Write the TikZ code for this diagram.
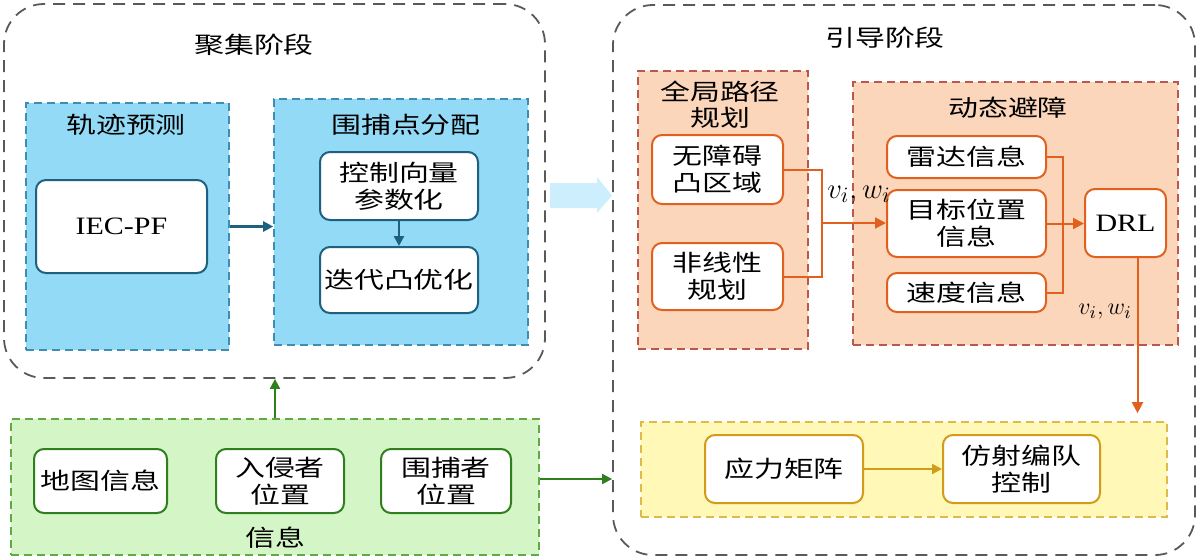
\documentclass[tikz,border=0pt]{standalone}
\usepackage{fontspec}
\setmainfont{Liberation Serif}[FakeStretch=1.2]
\newfontfamily\cjkfont{Noto Sans CJK SC}[FakeStretch=1.3]
\usetikzlibrary{arrows.meta,positioning,calc}
\definecolor{StageGray}{HTML}{595959}
\definecolor{BlueFill}{HTML}{92DAF6}
\definecolor{BlueEdge}{HTML}{3F8DB3}
\definecolor{BlueDark}{HTML}{1F5F80}
\definecolor{PeachFill}{HTML}{FCD6BB}
\definecolor{PeachEdge}{HTML}{B8594C}
\definecolor{OrangeLine}{HTML}{E2601E}
\definecolor{GreenFill}{HTML}{D4F6C6}
\definecolor{GreenEdge}{HTML}{62A845}
\definecolor{GreenDark}{HTML}{2F7F1C}
\definecolor{YellowFill}{HTML}{FFF8B6}
\definecolor{YellowEdge}{HTML}{E0BA48}
\definecolor{GoldLine}{HTML}{D29C1A}
\definecolor{ArrowBlue}{HTML}{CDEEFC}
\tikzset{
    % Base box style
    basebox/.style={
        draw,
        fill=white,
        rounded corners=5pt,
        line width=1pt,
        inner sep=0pt,
        align=center,
        font=\cjkfont\fontsize{11.5}{13.5}\selectfont
    },
    % Latin text inside a box
    latinbox/.style={
        font=\rmfamily\fontsize{12.5}{13.5}\selectfont
    },
    % Boxes of each colour group
    bluebox/.style={basebox, draw=BlueDark},
    orangebox/.style={basebox, draw=OrangeLine},
    greenbox/.style={basebox, draw=GreenDark},
    goldbox/.style={basebox, draw=GoldLine},
    % Stage frame
    stageframe/.style={
        draw=StageGray,
        line width=0.9pt,
        dash pattern=on 6pt off 4pt,
        rounded corners=20pt,
        inner sep=0pt
    },
    % Group frames
    groupframe/.style={
        line width=0.8pt,
        dash pattern=on 4pt off 2.5pt,
        inner sep=0pt
    },
    bluegroup/.style={groupframe, fill=BlueFill, draw=BlueEdge},
    peachgroup/.style={groupframe, fill=PeachFill, draw=PeachEdge},
    greengroup/.style={groupframe, fill=GreenFill, draw=GreenEdge},
    yellowgroup/.style={groupframe, fill=YellowFill, draw=YellowEdge},
    % Titles
    titletext/.style={
        inner sep=0pt,
        align=center,
        font=\cjkfont\fontsize{11.5}{13}\selectfont
    },
    % Math labels on connectors
    mathlabel/.style={
        inner sep=0pt,
        font=\fontsize{13}{13}\selectfont
    },
    % Arrow styles
    bluearrow/.style={
        -{Triangle[length=5pt,width=5pt]},
        line width=1.2pt,
        draw=BlueDark
    },
    orangeline/.style={
        line width=1pt,
        draw=OrangeLine
    },
    orangearrow/.style={
        orangeline,
        -{Triangle[length=5.5pt,width=5.5pt]}
    },
    greenarrow/.style={
        -{Triangle[length=5pt,width=5pt]},
        line width=1pt,
        draw=GreenDark
    },
    goldarrow/.style={
        -{Triangle[length=5pt,width=5pt]},
        line width=1pt,
        draw=GoldLine
    }
}
\begin{document}
\begin{tikzpicture}[x=0.5pt, y=-0.5pt]
        \useasboundingbox (0,0) rectangle (1200,559);

        % Stage frames
        \node[stageframe, minimum width=270.5pt, minimum height=187pt] (gather) at (274.5,191) {};
        \node[stageframe, minimum width=291pt, minimum height=275pt] (guide) at (904,280) {};
        \node[titletext] at (254,45) {聚集阶段};
        \node[titletext] at (885,38) {引导阶段};

        % Gather stage - trajectory prediction
        \node[bluegroup, minimum width=101.5pt, minimum height=123.5pt] (traj) at (127.5,226.5) {};
        \node[titletext] at (126,125) {轨迹预测};
        \node[bluebox, latinbox, minimum width=85.5pt, minimum height=46.5pt] (iec) at (121.5,226.5) {IEC-PF};

        % Gather stage - point allocation
        \node[bluegroup, minimum width=127pt, minimum height=123pt] (alloc) at (401,222) {};
        \node[titletext] at (406,125) {围捕点分配};
        \node[bluebox, minimum width=79pt, minimum height=34pt] (param) at (399,186) {控制向量\\参数化};
        \node[bluebox, minimum width=79pt, minimum height=33pt] (iter) at (399,280) {迭代凸优化};

        % Information
        \node[greengroup, minimum width=264pt, minimum height=68pt] (info) at (275,487) {};
        \node[titletext] at (275,538) {信息};
        \node[greenbox, minimum width=66.5pt, minimum height=32pt] (map) at (100.5,481) {地图信息};
        \node[greenbox, minimum width=64pt, minimum height=32pt] (intruder) at (280,481) {入侵者\\位置};
        \node[greenbox, minimum width=65pt, minimum height=32pt] (pursuer) at (446,481) {围捕者\\位置};

        % Guide stage - global path planning
        \node[peachgroup, minimum width=85pt, minimum height=139pt] (global) at (723,210) {};
        \node[titletext] at (720,105) {全局路径\\规划};
        \node[orangebox, minimum width=65.5pt, minimum height=34.5pt] (free) at (717.5,169.5) {无障碍\\凸区域};
        \node[orangebox, minimum width=65.5pt, minimum height=33.5pt] (nonlin) at (717.5,276.5) {非线性\\规划};

        % Guide stage - dynamic obstacle avoidance
        \node[peachgroup, minimum width=162.5pt, minimum height=131.5pt] (avoid) at (1015.5,213.5) {};
        \node[titletext] at (1008,108) {动态避障};
        \node[orangebox, minimum width=79.5pt, minimum height=21pt] (radar) at (966.5,157) {雷达信息};
        \node[orangebox, minimum width=79.5pt, minimum height=33.5pt] (target) at (966.5,223.5) {目标位置\\信息};
        \node[orangebox, minimum width=79.5pt, minimum height=19.5pt] (speed) at (966.5,292.5) {速度信息};
        \node[orangebox, latinbox, minimum width=40.5pt, minimum height=34pt] (drl) at (1125.5,223) {DRL};

        % Guide stage - formation control
        \node[yellowgroup, minimum width=263pt, minimum height=47.5pt] (formation) at (904,469.5) {};
        \node[goldbox, minimum width=79pt, minimum height=34pt] (stress) at (784,469) {应力矩阵};
        \node[goldbox, minimum width=78.5pt, minimum height=34pt] (affine) at (1021.5,469) {仿射编队\\控制};

        % Stage transition arrow
        \fill[ArrowBlue] (550,183) -- (597,183) -- (597,177) -- (612,195.5)
            -- (597,213) -- (597,208) -- (550,208) -- cycle;

        % Arrows - gather stage
        \draw[bluearrow] (traj.east) -- (traj.east -| alloc.west);
        \draw[bluearrow] (param.south) -- (iter.north);

        % Arrows - information
        \draw[greenarrow] (info.north) -- (info.north |- gather.south);
        \draw[greenarrow] ([yshift=4pt]info.east) -- ([yshift=4pt]info.east -| guide.west);

        % Arrows - guide stage
        \coordinate (joinl) at (822,223);
        \coordinate (joinr) at (1063,223);
        \draw[orangeline] (free.east) -| (joinl);
        \draw[orangeline] (nonlin.east) -| (joinl);
        \draw[orangearrow] (joinl) -- (joinl -| target.west);
        \draw[orangeline] (radar.east) -| (joinr);
        \draw[orangeline] (speed.east) -| (joinr);
        \draw[orangearrow] (target.east) -- (target.east -| drl.west);
        \draw[orangearrow, shorten >=4pt] ([xshift=6pt]drl.south) -- ([xshift=6pt]drl.south |- formation.north);
        \draw[goldarrow] (stress.east) -- (affine.west);

        % Connector labels
        \node[mathlabel, font=\fontsize{15.5}{15.5}\selectfont] at (859,195) {$v_i,w_i$};
        \node[mathlabel] at (1105,312) {$v_i,w_i$};
    \end{tikzpicture}
\end{document}
